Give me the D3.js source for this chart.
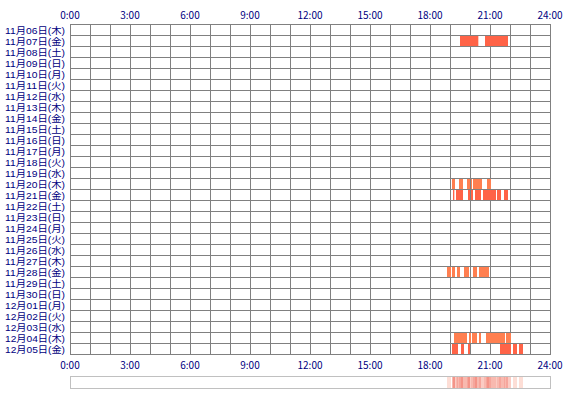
<!DOCTYPE html>
<html><head><meta charset="utf-8">
<script src="https://cdn.jsdelivr.net/npm/d3@7"></script>
<style>body{margin:0;background:#fff}</style>
</head><body><svg id="c" width="570" height="400"></svg>
<script>
const days = ["11月06日(木)","11月07日(金)","11月08日(土)","11月09日(日)","11月10日(月)","11月11日(火)","11月12日(水)","11月13日(木)","11月14日(金)","11月15日(土)","11月16日(日)","11月17日(月)","11月18日(火)","11月19日(水)","11月20日(木)","11月21日(金)","11月22日(土)","11月23日(日)","11月24日(月)","11月25日(火)","11月26日(水)","11月27日(木)","11月28日(金)","11月29日(土)","11月30日(日)","12月01日(月)","12月02日(火)","12月03日(水)","12月04日(木)","12月05日(金)"];
const hourTicks = [0,3,6,9,12,15,18,21,24];
const tickLabels = ["0:00","3:00","6:00","9:00","12:00","15:00","18:00","21:00","24:00"];
// sessions per active day: [start "HH:MM", end "HH:MM"]
const sessNov07 = [["19:27","20:22"],["20:42","21:51"]];
const sessNov20 = [["19:03","19:12"],["19:24","19:36"],["19:48","19:57"],["20:00","20:03"],["20:06","20:33"],["20:48","21:00"]];
const sessNov21 = [["19:06","19:10"],["19:15","19:36"],["19:51","19:57"],["20:00","20:06"],["20:12","20:30"],["20:36","21:15"],["21:18","21:30"],["21:39","21:51"]];
const sessNov28 = [["18:48","19:00"],["19:03","19:12"],["19:18","19:27"],["19:39","19:54"],["20:06","20:18"],["20:24","20:54"]];
const sessDec04 = [["19:09","19:48"],["19:54","20:00"],["20:03","20:18"],["20:24","20:30"],["20:45","21:42"],["21:45","22:00"]];
const sessDec05 = [["19:03","19:21"],["19:30","19:39"],["19:51","19:57"],["21:27","22:00"],["22:06","22:18"],["22:24","22:36"]];
const activeDays = ["11月07日(金)","11月20日(木)","11月21日(金)","11月28日(金)","12月04日(木)","12月05日(金)"];
const activeSessions = [sessNov07,sessNov20,sessNov21,sessNov28,sessDec04,sessDec05];
const activeLevel = [2,1,2,1,1,2];

const toH = s => { const [h,m] = s.split(":").map(Number); return h + m/60; };
const sessions = [];
activeDays.forEach((d,i)=>activeSessions[i].forEach(([a,b])=>sessions.push({day:d,start:toH(a),end:toH(b),level:activeLevel[i]})));

const svg = d3.select("#c");
const x = d3.scaleLinear().domain([0,24]).range([70,550]);
const y = d3.scaleBand().domain(days).range([24,354]);
const color = d3.scaleOrdinal().domain([1,2]).range(["#ff7f50","#ff6347"]);
const font = "'Noto Sans CJK JP', sans-serif";

// grid
const g = svg.append("g");
g.selectAll("line.v").data(d3.range(0,25)).join("line")
  .attr("x1",d=>x(d)+0.5).attr("x2",d=>x(d)+0.5).attr("y1",24).attr("y2",355)
  .attr("stroke","#808080");
g.selectAll("line.h").data(d3.range(0,days.length+1)).join("line")
  .attr("x1",70).attr("x2",551).attr("y1",d=>24+d*y.bandwidth()+0.5).attr("y2",d=>24+d*y.bandwidth()+0.5)
  .attr("stroke","#808080");

// bars
svg.append("g").selectAll("rect").data(sessions).join("rect")
  .attr("x",d=>x(d.start)+1).attr("width",d=>Math.max(1,x(d.end)-x(d.start)))
  .attr("y",d=>y(d.day)+1).attr("height",y.bandwidth()-1)
  .attr("fill",d=>color(d.level));

// day labels
svg.append("g").selectAll("text").data(days).join("text")
  .attr("x",5).attr("y",d=>y(d)+y.bandwidth()/2+1).attr("dy","0.35em")
  .attr("textLength",60).attr("lengthAdjust","spacingAndGlyphs")
  .attr("fill","#000080")
  .style("font-family","'Liberation Sans', 'Noto Sans CJK JP', sans-serif").style("font-size","9.5px").text(d=>d);

// hour labels
[15,365].forEach(yy=>{
  svg.append("g").selectAll("text").data(hourTicks).join("text")
    .attr("x",d=>x(d)).attr("y",yy).attr("dy","0.36em").attr("text-anchor","middle")
    .attr("fill","#000080").style("font-family",font).style("font-size","10px")
    .text((d,i)=>tickLabels[i]);
});

// overview strip
const cols = d3.range(70,550);
const counts = cols.map(px=>{
  const h0 = x.invert(px), h1 = x.invert(px+1);
  return sessions.filter(s=>s.start<h1 && s.end>h0).length;
});
svg.append("g").selectAll("rect").data(cols.filter((c,i)=>counts[i]>0)).join("rect")
  .attr("x",d=>d+1).attr("width",1).attr("y",377).attr("height",11)
  .attr("fill",d=>d3.interpolateRgb("#fff0ea","#f49488")(Math.min(1,counts[d-70]/5)));
svg.append("rect").attr("x",70.5).attr("y",376.5).attr("width",480).attr("height",12)
  .attr("fill","none").attr("stroke","#c0c0c0");
</script>
</body></html>
